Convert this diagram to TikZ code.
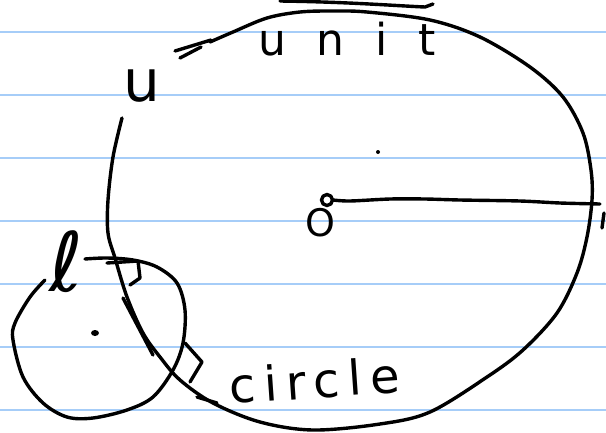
\documentclass[tikz,border=0pt]{standalone}
\usepackage{fontspec}
\newfontfamily\handfont{DejaVu Sans}
\definecolor{ruleBlue}{HTML}{A6CDF8}

\begin{document}
\begin{tikzpicture}[
    x=1pt, y=-1pt,
    pen/.style={line width=3.4pt, line cap=round, line join=round},
    ruled/.style={line width=1.8pt, draw=ruleBlue},
    hand/.style={inner sep=0pt}
]
    \useasboundingbox (0,0) rectangle (606,432);

    % paper rules
    \foreach \y in {32,95,158,221,284,347,410}
        \draw[ruled] (0,\y) -- (606,\y);

    % unit circle
    \draw[pen] plot[smooth, tension=0.55] coordinates {
        (122,118) (113,157) (108,200) (108,233) (115,258) (127,297)
        (143,333) (160,357) (180,380) (213,403) (260,422) (313,430)
        (380,424) (430,412) (487,377) (523,350) (557,313) (577,273)
        (587,237) (592,200) (591,170) (583,133) (563,97) (530,67)
        (480,37) (430,20) (367,12) (333,11) (300,12) (267,18)
        (233,32) (210,42)};
    \draw[pen] (175,51) -- (211,40);
    \draw[pen] (180,58) -- (201,47);
    \draw[pen] (280,1) .. controls (350,2) and (400,6) .. (425,7) -- (433,4);

    % small circle
    \draw[pen] plot[smooth, tension=0.55] coordinates {
        (45,280) (30,297) (15,323) (13,340) (23,377) (43,403)
        (67,417) (93,418) (127,410) (153,397) (173,370) (183,343)
        (185,310) (177,283) (157,267) (133,260) (107,258) (85,259)};
    \fill (95,333) ellipse (4pt and 3pt);
    \fill (378,152) circle (2pt);

    % tangent segment and right angles
    \draw[pen] (123,298) -- (153,355);
    \draw[pen] (107,263) -- (138,261) -- (140,278) -- (130,285);
    \draw[pen] (185,343) -- (202,362) -- (190,382);
    \draw[pen] (197,397) -- (217,403);

    % centre and radius
    \draw[pen] (327,200) circle (5.5pt);
    \draw[pen] plot[smooth, tension=0.5] coordinates {
        (333,200) (350,201) (390,199) (425,199) (460,200)
        (520,201) (560,203) (600,204)};
    \draw[pen] (604,213) -- (602,228);

    % labels
    \node[hand, anchor=base west, font=\handfont\fontsize{44}{44}\selectfont\addfontfeature{LetterSpace=70}] (unitlbl) at (258,55) {unit};
    \node[hand, anchor=base west, rotate=4, font=\handfont\fontsize{48}{48}\selectfont\addfontfeature{LetterSpace=18}] (circlelbl) at (230,404) {circle};
    \node[hand, font=\handfont\fontsize{58}{58}\selectfont] (ulbl) at (142,86) {u};
    \node[hand, font=\handfont\fontsize{38}{38}\selectfont] (olbl) at (320,223) {O};
    \node[hand, font=\handfont\fontsize{82}{82}\selectfont] (elllbl) at (66,262) {ℓ};
\end{tikzpicture}
\end{document}
